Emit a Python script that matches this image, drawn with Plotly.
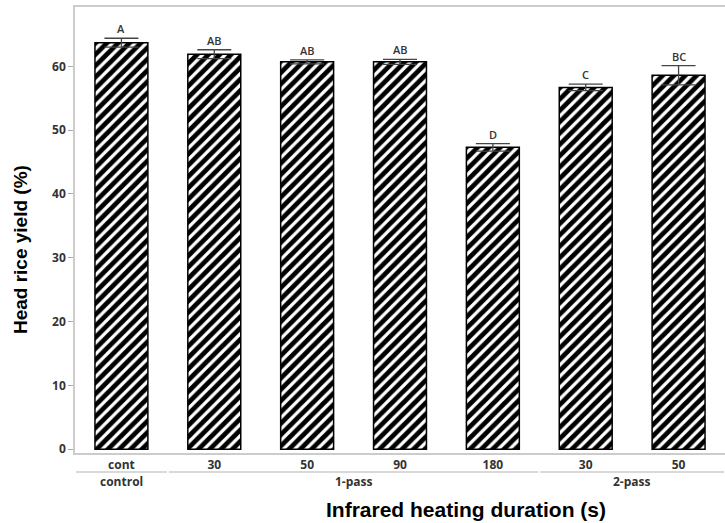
import plotly.graph_objects as go

durations = ["cont", "30", "50", "90", "180", "30", "50"]
groups = ["control", "1-pass", "1-pass", "1-pass", "1-pass", "2-pass", "2-pass"]
yield_pct = [63.7, 61.9, 60.7, 60.7, 47.3, 56.7, 58.6]
err = [0.7, 0.7, 0.3, 0.4, 0.6, 0.5, 1.5]
letters = ["A", "AB", "AB", "AB", "D", "C", "BC"]
y_ticks = [0, 10, 20, 30, 40, 50, 60]

xpos = list(range(len(durations)))
tickfont = dict(family="Open Sans", size=12, color="#333333", weight="bold")

fig = go.Figure()
fig.add_trace(go.Bar(
    x=xpos, y=yield_pct, width=0.57,
    marker=dict(color="white", line=dict(color="black", width=1.5),
                pattern=dict(shape="/", fgcolor="black", bgcolor="white", fgopacity=1,
                             size=8, solidity=0.6)),
    error_y=dict(type="data", array=err, visible=True, color="#444444", thickness=1.3, width=17),
    showlegend=False,
))

for i, (v, e, t) in enumerate(zip(yield_pct, err, letters)):
    fig.add_annotation(x=xpos[i], y=v + e, text=t, showarrow=False, yanchor="bottom", yshift=0,
                       font=dict(family="Open Sans", size=11, color="#333333", weight=600))

# group brackets
spans = {}
for i, g in enumerate(groups):
    spans.setdefault(g, [i, i])
    spans[g][1] = i
for g, (a, b) in spans.items():
    fig.add_shape(type="line", xref="x", yref="paper", x0=a - 0.49, x1=b + 0.49, y0=-0.0426, y1=-0.0426,
                  line=dict(color="#cccccc", width=1.5))
    fig.add_annotation(xref="x", yref="paper", x=(a + b) / 2, y=-0.065, text=g, showarrow=False,
                       yanchor="middle", font=tickfont)

fig.add_annotation(xref="paper", yref="paper", x=0.6015, y=-0.1256, yanchor="middle", showarrow=False,
                   text="Infrared heating duration (s)",
                   font=dict(family="Arial", size=21, color="black", weight="bold"))
fig.add_annotation(xref="paper", yref="paper", x=-0.0846, y=0.455, textangle=-90, showarrow=False,
                   xanchor="center", yanchor="middle", text="Head rice yield (%)",
                   font=dict(family="Arial", size=19, color="black", weight="bold"))

fig.update_xaxes(tickvals=xpos, ticktext=durations, range=[-0.5, 6.5], showline=True,
                 linecolor="#cccccc", linewidth=1.5, mirror=True, ticks="", tickfont=tickfont,
                 showgrid=False, zeroline=False)
fig.update_yaxes(range=[-0.6, 69.3], tickvals=y_ticks, showline=True, linecolor="#cccccc", linewidth=1.5,
                 ticks="outside", ticklen=5, tickcolor="#aaaaaa", tickfont=tickfont,
                 showgrid=False, zeroline=False)
fig.update_layout(width=725, height=523, margin=dict(l=75, r=0, t=7, b=70),
                  plot_bgcolor="white", paper_bgcolor="white")
fig.write_html("out.html", config={"displayModeBar": False},
               post_script="document.body.style.margin='0px';")
